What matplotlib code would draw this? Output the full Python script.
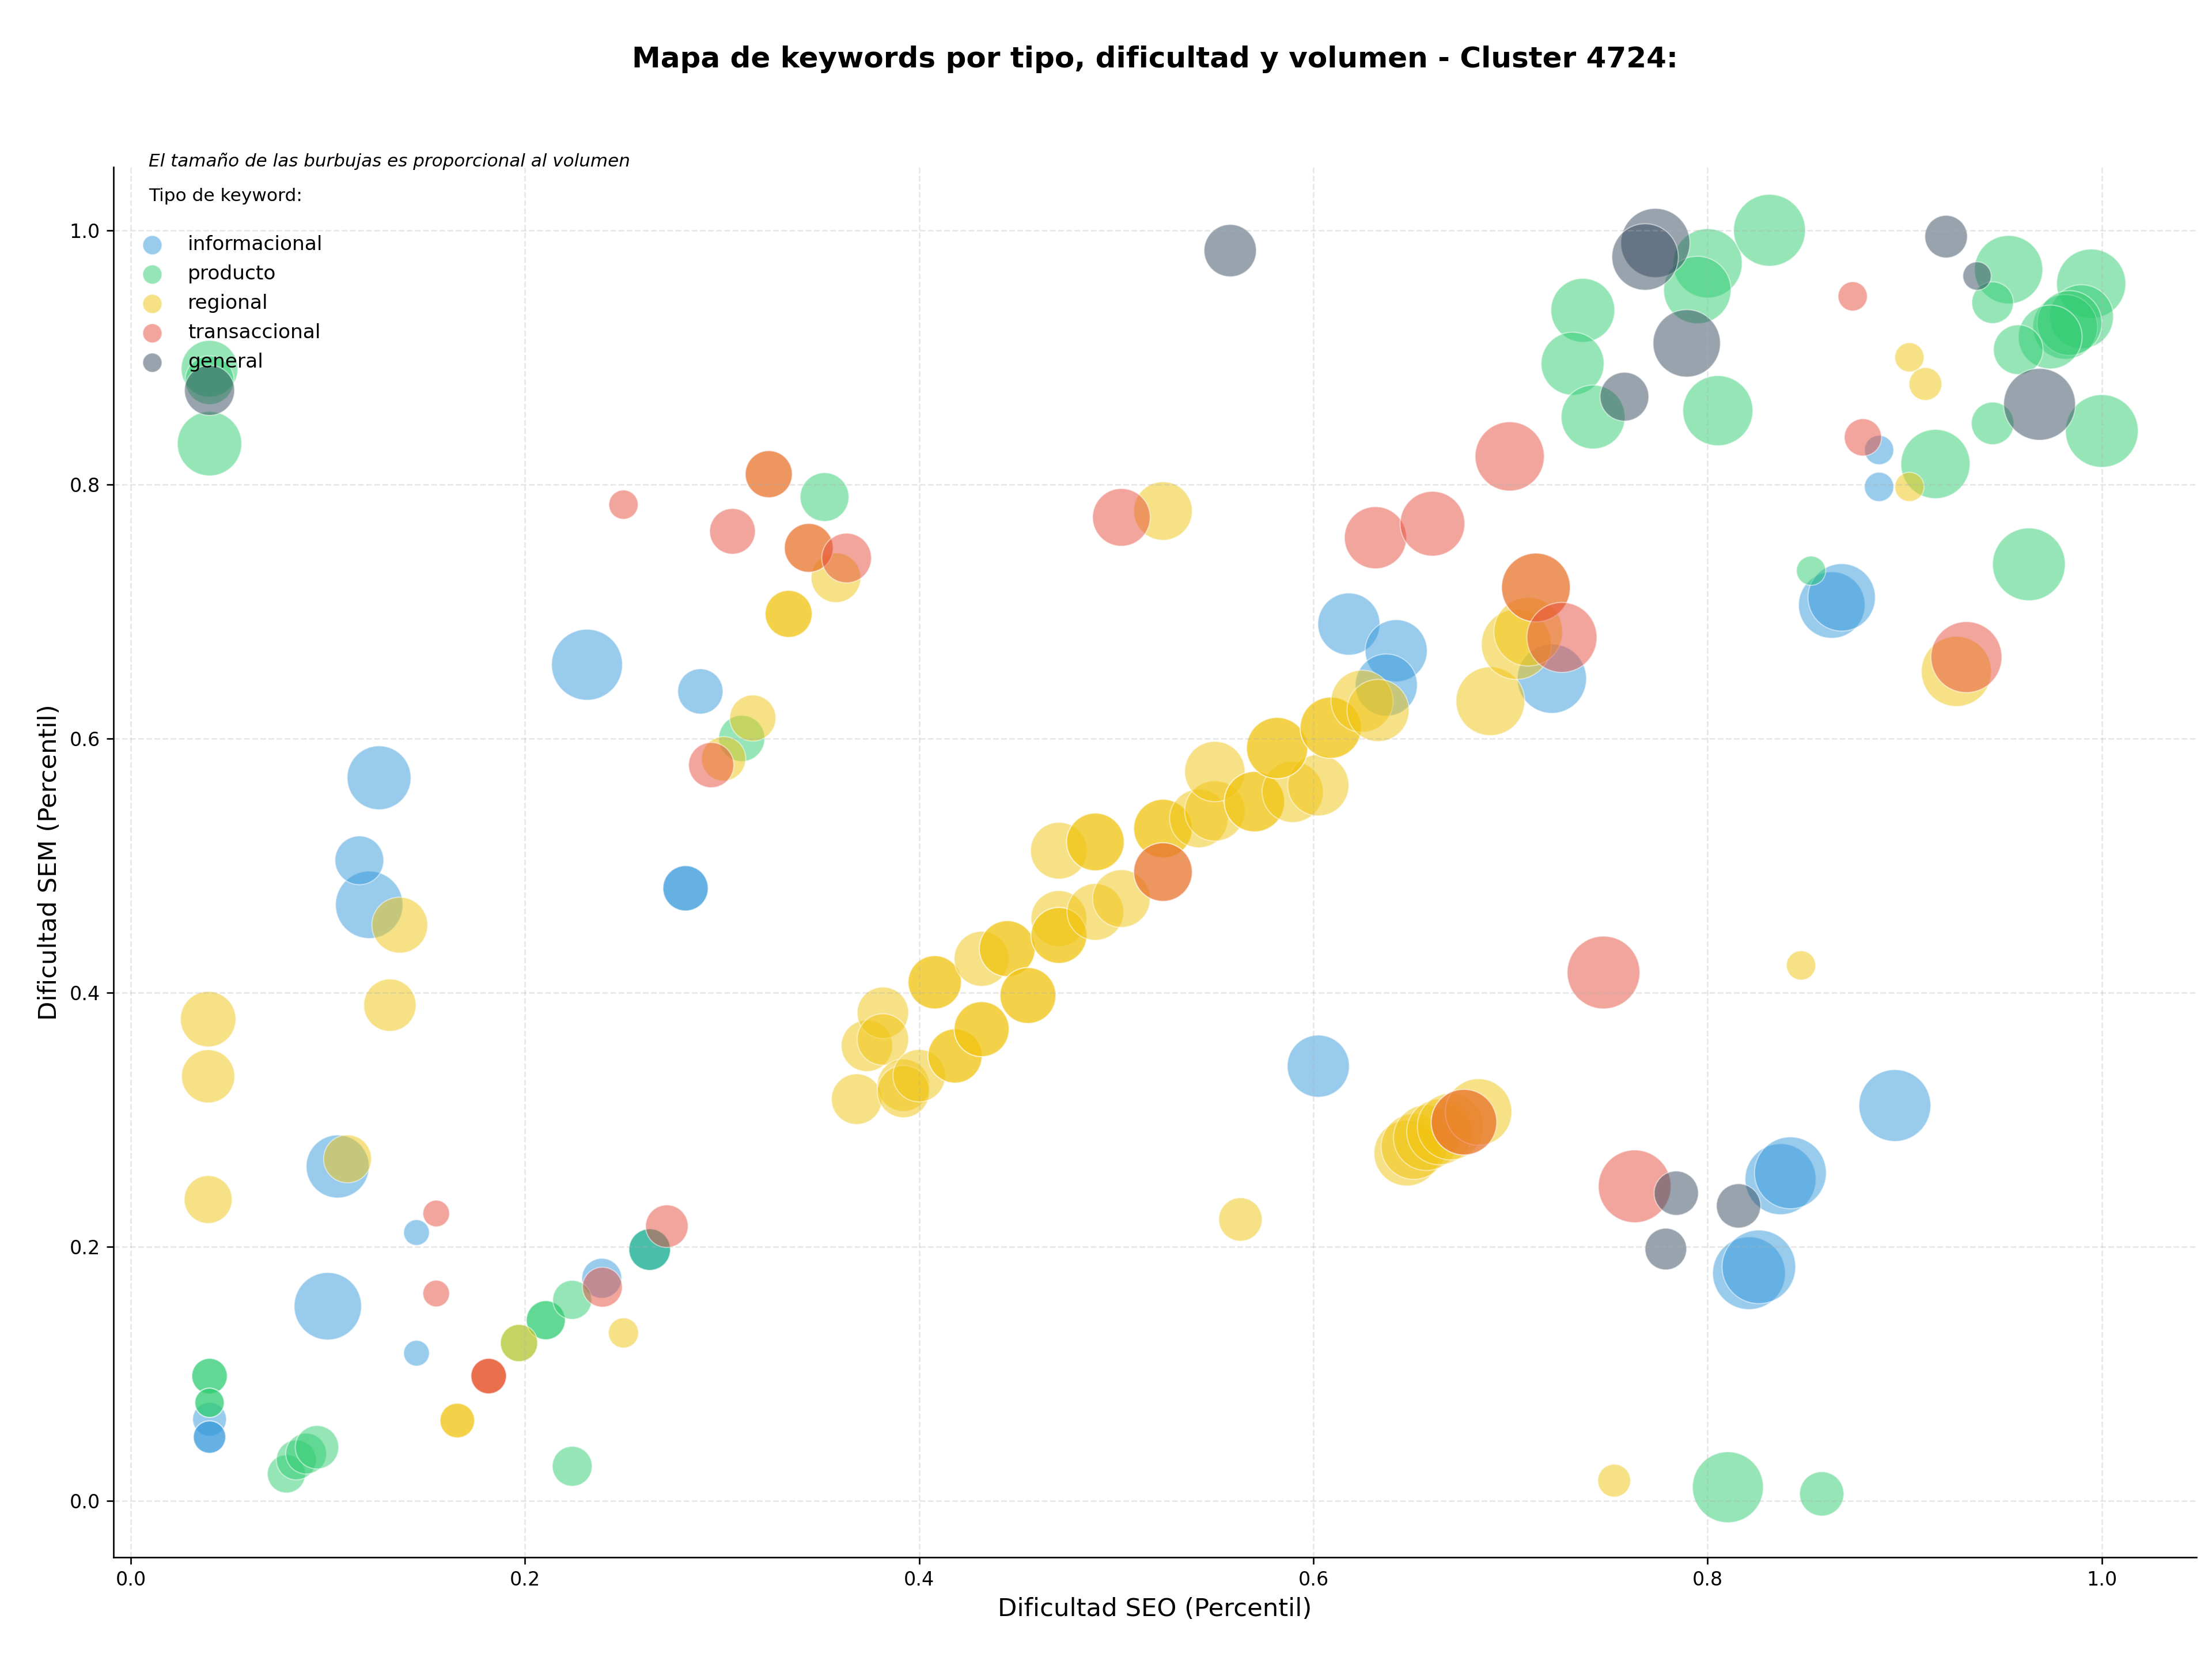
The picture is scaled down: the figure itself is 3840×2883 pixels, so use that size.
import matplotlib
matplotlib.use('Agg')
import matplotlib.pyplot as plt

# tipos de keyword y colores
tipos = ['informacional', 'producto', 'regional', 'transaccional', 'general']
colores = ['#3498db', '#2ecc71', '#f1c40f', '#e74c3c', '#34495e']

# informacional: dificultad SEO, dificultad SEM, tamaño (volumen escalado)
info_seo = [0.040, 0.040, 0.040, 0.145, 0.145, 0.100, 0.105, 0.121, 0.116, 0.126,
            0.2315, 0.289, 0.2815, 0.2815, 0.239, 0.2633, 0.2633, 0.6025, 0.618, 0.642,
            0.637, 0.721, 0.863, 0.868, 0.887, 0.887, 0.895, 0.837, 0.842, 0.821, 0.826]
info_sem = [0.064, 0.050, 0.050, 0.211, 0.116, 0.153, 0.263, 0.469, 0.504, 0.569,
            0.658, 0.637, 0.482, 0.482, 0.175, 0.1976, 0.1976, 0.342, 0.690, 0.669,
            0.642, 0.647, 0.705, 0.711, 0.827, 0.798, 0.311, 0.253, 0.258, 0.179, 0.184]
info_tam = [308, 283, 283, 179, 179, 1230, 1074, 1230, 644, 1104,
            1363, 554, 554, 554, 431, 470, 470, 1044, 1044, 1044,
            1044, 1296, 1198, 1230, 232, 232, 1397, 1363, 1397, 1432, 1467]

# producto
prod_seo = [0.040, 0.040, 0.040, 0.040, 0.040, 0.040, 0.040, 0.079, 0.084, 0.089,
            0.0945, 0.224, 0.197, 0.2106, 0.2106, 0.224, 0.2633, 0.310, 0.352, 0.7367,
            0.7315, 0.7419, 0.8052, 0.800, 0.7948, 0.8314, 0.9527, 0.9446, 0.9946, 0.9897,
            0.9814, 0.9836, 0.9738, 0.9576, 0.9446, 1.000, 0.9156, 0.963, 0.8525, 0.8103,
            0.8579]
prod_sem = [0.891, 0.882, 0.832, 0.098, 0.098, 0.077, 0.077, 0.021, 0.032, 0.037,
            0.042, 0.027, 0.124, 0.142, 0.142, 0.158, 0.1976, 0.600, 0.790, 0.937,
            0.895, 0.853, 0.858, 0.974, 0.953, 1.000, 0.969, 0.943, 0.958, 0.932,
            0.924, 0.927, 0.916, 0.906, 0.848, 0.842, 0.816, 0.737, 0.732, 0.0105,
            0.0053]
prod_tam = [872, 644, 1120, 341, 341, 232, 232, 394, 431, 451,
            511, 431, 376, 412, 412, 412, 470, 576, 644, 1104,
            1074, 1104, 1329, 1296, 1230, 1397, 1263, 470, 1296, 1104,
            1135, 1135, 1104, 668, 491, 1432, 1296, 1432, 232, 1363,
            532]

# regional
reg_seo = [0.0393, 0.0393, 0.0393, 0.110, 0.1365, 0.1315, 0.1657, 0.1657, 0.1816, 0.197,
           0.250, 0.3338, 0.3338, 0.3156, 0.3008, 0.3578, 0.3237, 0.344, 0.5237, 0.3683,
           0.3735, 0.3816, 0.3816, 0.392, 0.392, 0.400, 0.4079, 0.4079, 0.4182, 0.4182,
           0.4317, 0.4317, 0.4317, 0.4447, 0.4447, 0.4552, 0.4552, 0.4709, 0.4709, 0.4709,
           0.4894, 0.5026, 0.4709, 0.4894, 0.4894, 0.5237, 0.5237, 0.5237, 0.5419, 0.550,
           0.550, 0.5701, 0.5701, 0.5895, 0.6025, 0.5816, 0.5816, 0.6088, 0.6088, 0.6247,
           0.6328, 0.6898, 0.703, 0.709, 0.7129, 0.563, 0.6474, 0.651, 0.6573, 0.664,
           0.6696, 0.6764, 0.6838, 0.7526, 0.8474, 0.9262, 0.9024, 0.9105, 0.9024]
reg_sem = [0.379, 0.334, 0.237, 0.269, 0.453, 0.390, 0.063, 0.063, 0.098, 0.124,
           0.132, 0.698, 0.698, 0.616, 0.584, 0.7265, 0.808, 0.750, 0.779, 0.316,
           0.358, 0.384, 0.363, 0.327, 0.322, 0.3345, 0.408, 0.408, 0.350, 0.350,
           0.3711, 0.3711, 0.4265, 0.4345, 0.4345, 0.3976, 0.3976, 0.4582, 0.4449, 0.4449,
           0.4634, 0.4739, 0.5116, 0.5185, 0.5185, 0.529, 0.529, 0.4948, 0.537, 0.5429,
           0.5739, 0.5502, 0.5502, 0.5579, 0.5631, 0.5924, 0.5924, 0.6084, 0.6084, 0.6293,
           0.622, 0.6293, 0.674, 0.684, 0.7188, 0.2213, 0.2735, 0.2787, 0.2857, 0.2902,
           0.2944, 0.2979, 0.3059, 0.0157, 0.4213, 0.6527, 0.900, 0.879, 0.798]
reg_tam = [832, 767, 621, 621, 845, 741, 324, 324, 341, 376,
           246, 598, 598, 576, 532, 668, 598, 644, 928, 692,
           717, 717, 717, 741, 741, 741, 767, 767, 793, 793,
           819, 819, 819, 845, 845, 845, 845, 845, 845, 845,
           872, 900, 872, 900, 900, 928, 928, 928, 928, 985,
           985, 985, 985, 1014, 1014, 1014, 1014, 1014, 1014, 1044,
           1044, 1279, 1329, 1279, 1279, 511, 1166, 1166, 1166, 1166,
           1198, 1166, 1198, 292, 232, 1329, 232, 292, 232]

# transaccional
trans_seo = [0.155, 0.155, 0.1816, 0.1816, 0.2393, 0.272, 0.250, 0.3053, 0.3237, 0.344,
             0.3632, 0.2945, 0.5026, 0.5237, 0.6315, 0.6604, 0.6996, 0.7129, 0.7261, 0.6764,
             0.7472, 0.763, 0.8736, 0.8788, 0.9313]
trans_sem = [0.226, 0.163, 0.098, 0.098, 0.168, 0.216, 0.784, 0.763, 0.808, 0.750,
             0.742, 0.579, 0.774, 0.4948, 0.758, 0.769, 0.822, 0.7188, 0.6795, 0.2979,
             0.4157, 0.2474, 0.948, 0.837, 0.664]
trans_tam = [192, 192, 341, 341, 431, 491, 232, 565, 598, 644,
             668, 554, 900, 928, 1044, 1135, 1296, 1279, 1329, 1166,
             1432, 1432, 232, 376, 1363]

# general
gen_seo = [0.040, 0.5578, 0.7735, 0.7683, 0.7894, 0.7578, 0.921, 0.9367, 0.9684, 0.7841,
           0.7788, 0.8157]
gen_sem = [0.874, 0.984, 0.990, 0.979, 0.911, 0.869, 0.995, 0.964, 0.863, 0.242,
           0.198, 0.232]
gen_tam = [680, 741, 1296, 1198, 1230, 644, 491, 218, 1397, 532,
           470, 532]

series = [(info_seo, info_sem, info_tam),
          (prod_seo, prod_sem, prod_tam),
          (reg_seo, reg_sem, reg_tam),
          (trans_seo, trans_sem, trans_tam),
          (gen_seo, gen_sem, gen_tam)]

fig = plt.figure(figsize=(16, 12.0125), dpi=240)
ax = fig.add_axes([0.0513, 0.0626, 0.9417, 0.8368])

for tipo, color, (xs, ys, ss) in zip(tipos, colores, series):
    ax.scatter(xs, ys, s=ss, c=color, alpha=0.5, edgecolors='white',
               linewidths=0.6, label=tipo)

ax.set_title('Mapa de keywords por tipo, dificultad y volumen - Cluster 4724:',
             fontsize=15, fontweight='bold', pad=52)
ax.set_xlabel('Dificultad SEO (Percentil)', fontsize=13)
ax.set_ylabel('Dificultad SEM (Percentil)', fontsize=13)

ax.grid(True, linestyle='--', alpha=0.3)
ax.spines['top'].set_visible(False)
ax.spines['right'].set_visible(False)

ax.text(0.017, 1.004, 'El tamaño de las burbujas es proporcional al volumen',
        transform=ax.transAxes, fontsize=9.3, style='italic', va='center')
ax.text(0.017, 0.979, 'Tipo de keyword:', transform=ax.transAxes,
        fontsize=9.4, va='center')

leg = ax.legend(loc='upper left', bbox_to_anchor=(0.009, 0.951), frameon=False,
                fontsize=10.3, borderpad=0, borderaxespad=0, labelspacing=0.52)
for h in leg.legend_handles:
    h.set_sizes([100])

fig.savefig('out.png', dpi=240)
